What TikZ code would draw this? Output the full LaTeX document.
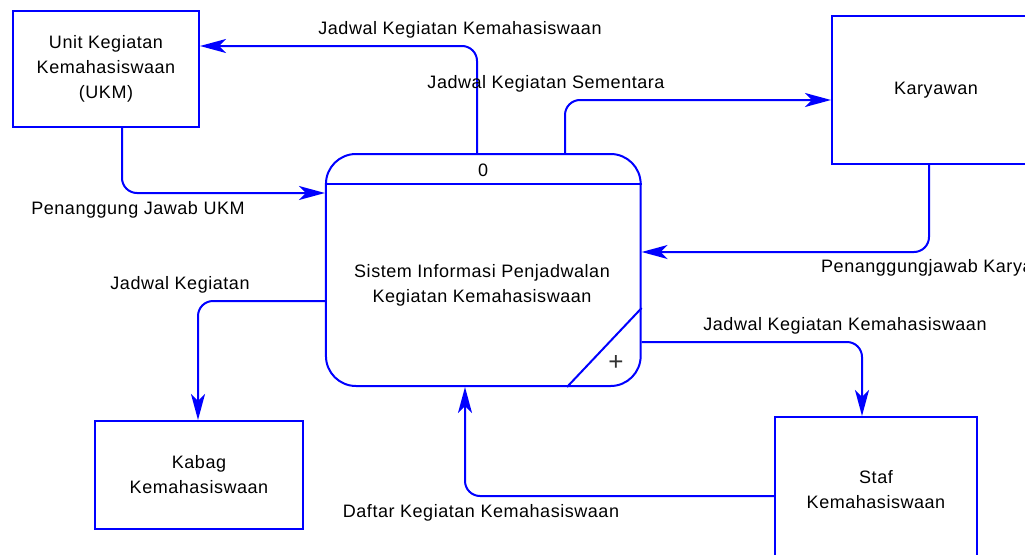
\documentclass[tikz,border=0pt]{standalone}
\usepackage{fontspec}
\setmainfont[LetterSpace=3]{Liberation Sans}
\usetikzlibrary{arrows.meta,calc}
\definecolor{flowblue}{RGB}{0,0,255}
\definecolor{plusgray}{RGB}{50,50,50}
\begin{document}
\begin{tikzpicture}[x=1pt,y=-1pt,
  every node/.style={font=\fontsize{18}{25}\selectfont, text=black, inner sep=0pt},
  entity/.style={draw=flowblue, line width=2pt, align=center},
  flow/.style={draw=flowblue, line width=2pt, rounded corners=15pt,
    -{Stealth[length=26pt,width=14pt,inset=7pt]}},
  plainline/.style={draw=flowblue, line width=2pt},
  lbl/.style={align=center}]
\useasboundingbox (0,0) rectangle (1025,554);

% entities
\node[entity, minimum width=186pt, minimum height=116pt] (U) at (106,69) {Unit Kegiatan\\Kemahasiswaan\\(UKM)};
\node[entity, minimum width=208pt, minimum height=148pt] (K) at (936,90) {Karyawan};
\node[entity, minimum width=208pt, minimum height=108pt] (B) at (199,475) {Kabag\\Kemahasiswaan};
\node[entity, minimum width=202pt, minimum height=145pt] (S) at (876,489.5) {Staf\\Kemahasiswaan};

% process
\node[entity, rounded corners=30pt, minimum width=314.7pt, minimum height=232pt] (P) at (483.3,270) {};
\node (Pid) at (483,170) {0};
\node[lbl] (Ptxt) at (482,285) {Sistem Informasi Penjadwalan\\Kegiatan Kemahasiswaan};
\coordinate (hdr) at (0,184);
\draw[plainline] (P.west |- hdr) -- (P.east |- hdr);
\coordinate (d1) at (0,308);
\coordinate (d2) at (567,0);
\draw[plainline] (P.east |- d1) -- (P.south -| d2);
\node[font=\fontsize{26}{26}\selectfont\addfontfeatures{LetterSpace=0}, text=plusgray] (plus) at (616,363) {+};

% flows
\coordinate (c1) at (477,46);
\draw[flow] (P.north -| c1) |- (U.east |- c1);
\coordinate (c2) at (565,100);
\draw[flow] (P.north -| c2) |- (K.west |- c2);
\coordinate (c3) at (122,193);
\draw[flow] (U.south -| c3) |- (P.west |- c3);
\coordinate (c4) at (929,252);
\draw[flow] (K.south -| c4) |- (P.east |- c4);
\coordinate (c5) at (198,301);
\draw[flow] (P.west |- c5) -| (B.north -| c5);
\coordinate (c6) at (862,342);
\draw[flow] (P.east |- c6) -| (S.north -| c6);
\coordinate (c7) at (465,496);
\draw[flow] (S.west |- c7) -| (P.south -| c7);

% labels
\node (L1) at (460,30) {Jadwal Kegiatan Kemahasiswaan};
\node (L2) at (546,84) {Jadwal Kegiatan Sementara};
\node (L3) at (138,210) {Penanggung Jawab UKM};
\node[anchor=west] (L4) at (821,268) {Penanggungjawab Karyawan};
\node (L5) at (180,285) {Jadwal Kegiatan};
\node (L6) at (845,326) {Jadwal Kegiatan Kemahasiswaan};
\node (L7) at (481,513) {Daftar Kegiatan Kemahasiswaan};
\end{tikzpicture}
\end{document}
